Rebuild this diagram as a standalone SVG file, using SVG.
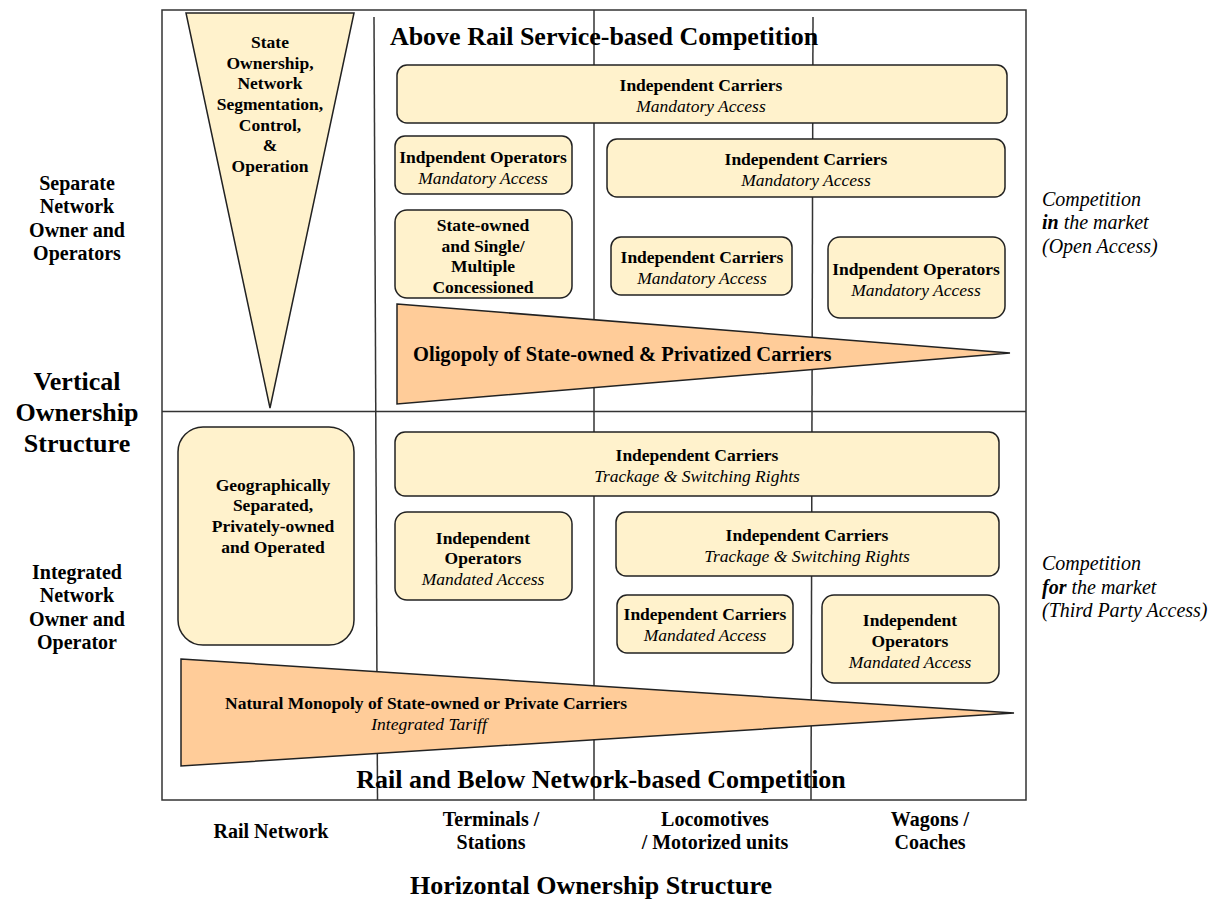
<svg xmlns="http://www.w3.org/2000/svg" width="1220" height="900" viewBox="0 0 1220 900">
<style>
text{font-family:"Liberation Serif","Times New Roman",serif;fill:#000}
.b{font-weight:bold}
.i{font-style:italic}
.c{text-anchor:middle}
.t{font-size:17.5px}
.lab{font-size:20px}
.big{font-size:26px;font-weight:bold}
.box{fill:#FFF2CC;stroke:#222;stroke-width:1.5}
.wedge{fill:#FFCC99;stroke:#222;stroke-width:1.5}
.grid{stroke:#333;stroke-width:1.5;fill:none}
</style>
<rect width="1220" height="900" fill="#fff"/>
<g id="grid" class="grid">
<rect x="162" y="10" width="864" height="790"/>
<line x1="162" y1="411.5" x2="1026" y2="411.5"/>
<line x1="374" y1="17" x2="377.5" y2="800"/>
<line x1="594" y1="10" x2="594" y2="800"/>
<line x1="813" y1="17" x2="811" y2="800"/>
</g>
<g id="title-top"><text class="big c" x="604" y="45">Above Rail Service-based Competition</text></g>
<g id="title-bottom"><text class="big c" x="601" y="788">Rail and Below Network-based Competition</text></g>
<g id="state-wedge">
<polygon class="box" points="186,13 354,13 270,408"/>
<text class="t b c" x="270"><tspan x="270" y="48">State</tspan><tspan x="270" y="69">Ownership,</tspan><tspan x="270" y="89">Network</tspan><tspan x="270" y="110">Segmentation,</tspan><tspan x="270" y="131">Control,</tspan><tspan x="270" y="151">&amp;</tspan><tspan x="270" y="172">Operation</tspan></text>
</g>
<g id="n1"><rect class="box" x="397" y="65" width="610" height="58" rx="10"/>
<text class="t c" x="701"><tspan class="b" x="701" y="91">Independent Carriers</tspan><tspan class="i" x="701" y="112">Mandatory Access</tspan></text></g>
<g id="n2"><rect class="box" x="395" y="136" width="177" height="58" rx="10"/>
<text class="t c" x="483"><tspan class="b" x="483" y="163">Indpendent Operators</tspan><tspan class="i" x="483" y="184">Mandatory Access</tspan></text></g>
<g id="n3"><rect class="box" x="607" y="139" width="398" height="58" rx="10"/>
<text class="t c" x="806"><tspan class="b" x="806" y="165">Independent Carriers</tspan><tspan class="i" x="806" y="186">Mandatory Access</tspan></text></g>
<g id="n4"><rect class="box" x="395" y="210" width="177" height="88" rx="12"/>
<text class="t b c" x="483"><tspan x="483" y="231">State-owned</tspan><tspan x="483" y="252">and Single/</tspan><tspan x="483" y="272">Multiple</tspan><tspan x="483" y="293">Concessioned</tspan></text></g>
<g id="n5"><rect class="box" x="611" y="237" width="181" height="58" rx="10"/>
<text class="t c" x="702"><tspan class="b" x="702" y="263">Independent Carriers</tspan><tspan class="i" x="702" y="284">Mandatory Access</tspan></text></g>
<g id="n6"><rect class="box" x="828" y="237" width="177" height="81" rx="12"/>
<text class="t c" x="916"><tspan class="b" x="916" y="275">Indpendent Operators</tspan><tspan class="i" x="916" y="296">Mandatory Access</tspan></text></g>
<g id="oligopoly"><polygon class="wedge" points="397,304 1010,353 397,404"/>
<text class="b" x="413" y="361" font-size="20.5">Oligopoly of State-owned &amp; Privatized Carriers</text></g>
<g id="n7"><rect class="box" x="178" y="427" width="176" height="218" rx="25"/>
<text class="t b c" x="273"><tspan x="273" y="491">Geographically</tspan><tspan x="273" y="511">Separated,</tspan><tspan x="273" y="532">Privately-owned</tspan><tspan x="273" y="553">and Operated</tspan></text></g>
<g id="n8"><rect class="box" x="395" y="432" width="604" height="64" rx="10"/>
<text class="t c" x="697"><tspan class="b" x="697" y="461">Independent Carriers</tspan><tspan class="i" x="697" y="482">Trackage &amp; Switching Rights</tspan></text></g>
<g id="n9"><rect class="box" x="395" y="512" width="177" height="88" rx="12"/>
<text class="t c" x="483"><tspan class="b" x="483" y="544">Independent</tspan><tspan class="b" x="483" y="564">Operators</tspan><tspan class="i" x="483" y="585">Mandated Access</tspan></text></g>
<g id="n10"><rect class="box" x="616" y="512" width="383" height="64" rx="10"/>
<text class="t c" x="807"><tspan class="b" x="807" y="541">Independent Carriers</tspan><tspan class="i" x="807" y="562">Trackage &amp; Switching Rights</tspan></text></g>
<g id="n11"><rect class="box" x="617" y="595" width="176" height="58" rx="10"/>
<text class="t c" x="705"><tspan class="b" x="705" y="620">Independent Carriers</tspan><tspan class="i" x="705" y="641">Mandated Access</tspan></text></g>
<g id="n12"><rect class="box" x="822" y="595" width="177" height="88" rx="12"/>
<text class="t c" x="910"><tspan class="b" x="910" y="626">Independent</tspan><tspan class="b" x="910" y="647">Operators</tspan><tspan class="i" x="910" y="668">Mandated Access</tspan></text></g>
<g id="monopoly"><polygon class="wedge" points="181,659 1014,713 181,766"/>
<text class="t b" x="225" y="709">Natural Monopoly of State-owned or Private Carriers</text>
<text class="t i c" x="429" y="730">Integrated Tariff</text></g>
<g id="left-labels">
<text class="lab b c" x="77"><tspan x="77" y="190">Separate</tspan><tspan x="77" y="213">Network</tspan><tspan x="77" y="237">Owner and</tspan><tspan x="77" y="260">Operators</tspan></text>
<text class="big c" x="77"><tspan x="77" y="390">Vertical</tspan><tspan x="77" y="421">Ownership</tspan><tspan x="77" y="452">Structure</tspan></text>
<text class="lab b c" x="77"><tspan x="77" y="579">Integrated</tspan><tspan x="77" y="602">Network</tspan><tspan x="77" y="626">Owner and</tspan><tspan x="77" y="649">Operator</tspan></text>
</g>
<g id="right-labels">
<text class="lab i" x="1042"><tspan x="1042" y="206">Competition</tspan><tspan x="1042" y="229"><tspan class="b">in</tspan> the market</tspan><tspan x="1042" y="253">(Open Access)</tspan></text>
<text class="lab i" x="1042"><tspan x="1042" y="570">Competition</tspan><tspan x="1042" y="594"><tspan class="b">for</tspan> the market</tspan><tspan x="1042" y="617">(Third Party Access)</tspan></text>
</g>
<g id="bottom-labels">
<text class="lab b c" x="271" y="838">Rail Network</text>
<text class="lab b c" x="491"><tspan x="491" y="826">Terminals /</tspan><tspan x="491" y="849">Stations</tspan></text>
<text class="lab b c" x="715"><tspan x="715" y="826">Locomotives</tspan><tspan x="715" y="849">/ Motorized units</tspan></text>
<text class="lab b c" x="930"><tspan x="930" y="826">Wagons /</tspan><tspan x="930" y="849">Coaches</tspan></text>
<text class="big c" x="591" y="894">Horizontal Ownership Structure</text>
</g>
</svg>
